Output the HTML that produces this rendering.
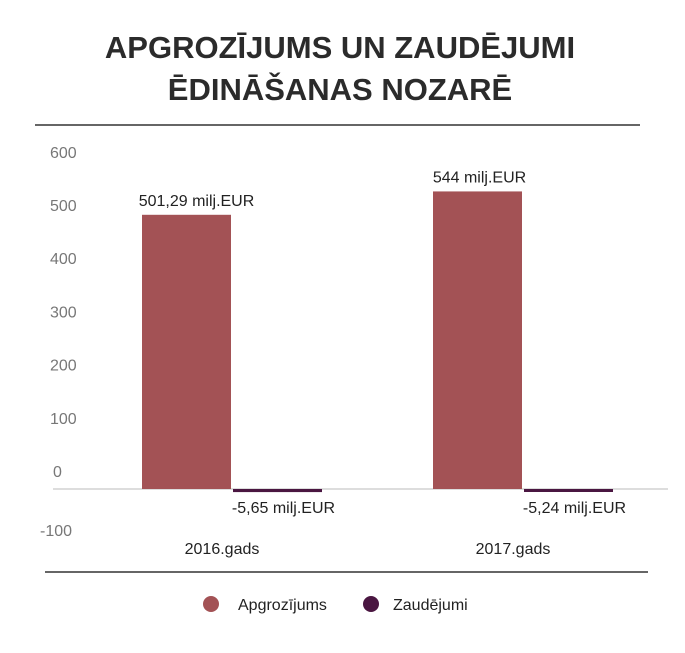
<!DOCTYPE html>
<html><head><meta charset="utf-8"><style>
body{margin:0;background:#fff;font-family:"Liberation Sans",sans-serif;}
svg text{font-family:"Liberation Sans",sans-serif;}
</style></head><body>
<svg width="685" height="648">
<text x="340" y="58" text-anchor="middle" font-size="31" font-weight="bold" fill="#2b2b2b">APGROZĪJUMS UN ZAUDĒJUMI</text>
<text x="340" y="100" text-anchor="middle" font-size="31" font-weight="bold" fill="#2b2b2b">ĒDINĀŠANAS NOZARĒ</text>
<line x1="35" y1="125" x2="640" y2="125" stroke="#666" stroke-width="2"/>
<g id="plot"></g>
<line x1="45" y1="572" x2="648" y2="572" stroke="#666" stroke-width="2"/>
<circle cx="211" cy="604" r="8" fill="#a35255"/>
<text x="238" y="610" font-size="16" fill="#222">Apgrozījums</text>
<circle cx="371" cy="604" r="8" fill="#4a1641"/>
<text x="393" y="610" font-size="16" fill="#222">Zaudējumi</text>
</svg>
<script>
const categories=["2016.gads","2017.gads"];
const revenue=[501.29,544];
const losses=[-5.65,-5.24];
const revenueLabels=["501,29 milj.EUR","544 milj.EUR"];
const lossLabels=["-5,65 milj.EUR","-5,24 milj.EUR"];
const ticks=[600,500,400,300,200,100,0,-100];
const NS="http://www.w3.org/2000/svg";
const g=document.getElementById("plot");
const y0=489,k=0.547;
function y(v){return y0-v*k;}
function tickY(v){return v<0?530+6:471+6-v*0.532;}
function catX(i){return 142+i*291;}
function mk(t,a){const e=document.createElementNS(NS,t);for(const n in a)e.setAttribute(n,a[n]);g.appendChild(e);return e;}
ticks.forEach(t=>{
 const e=mk("text",{x:t<0?40:(t===0?53:50),y:tickY(t),"text-anchor":"start","font-size":"16",fill:"#777"});
 e.textContent=t;
 
 
});
const base=mk("line",{x1:53,y1:y0,x2:668,y2:y0,stroke:"#ddd","stroke-width":2});


categories.forEach((c,i)=>{
 const x=catX(i),w=89;
 const r=mk("rect",{x:x,y:y(revenue[i]),width:w,height:y0-y(revenue[i]),fill:"#a35255"});
 
 
 const l=mk("rect",{x:x+w+2,y:y0,width:w,height:Math.max(3,y(losses[i])-y0),fill:"#4a1641"});
 
 
 const t1=mk("text",{x:x+w/2+(i===0?10:2),y:y(revenue[i])-9,"text-anchor":"middle","font-size":"16",fill:"#222"});
 t1.textContent=revenueLabels[i];
 
 
 const t2=mk("text",{x:x+w+2+w/2+6,y:y(losses[i])+21,"text-anchor":"middle","font-size":"16",fill:"#222"});
 t2.textContent=lossLabels[i];
 
 
 const t3=mk("text",{x:x+w-9,y:554,"text-anchor":"middle","font-size":"16",fill:"#222"});
 t3.textContent=c;
 
 
});
</script>
</body></html>
